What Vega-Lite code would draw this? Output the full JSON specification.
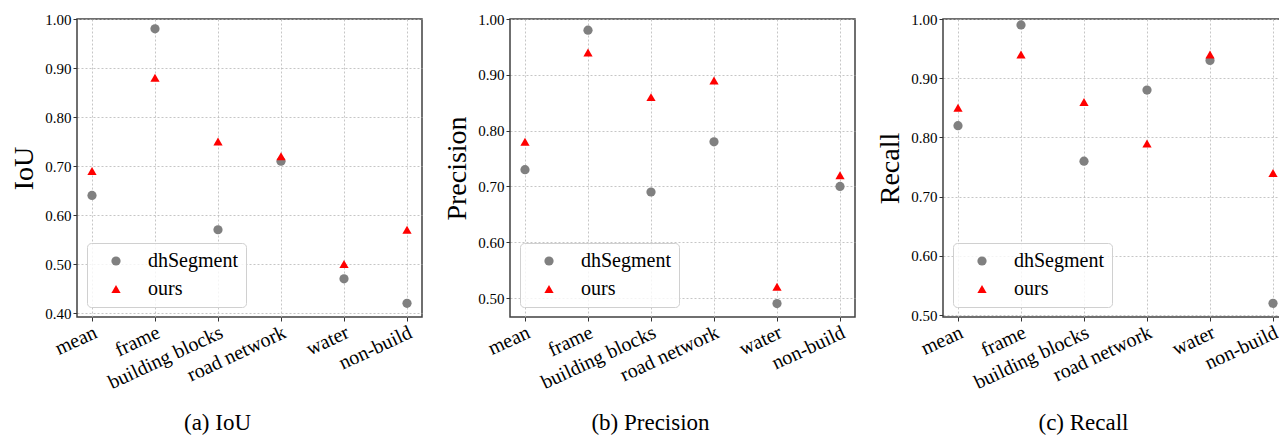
{
  "$schema": "https://vega.github.io/schema/vega-lite/v6.json",
  "padding": {"left": 10, "top": 11, "right": 0, "bottom": 0},
  "background": "white",
  "datasets": {
    "scores": [
      {"metric": "IoU", "category": "mean", "method": "dhSegment", "value": 0.64},
      {"metric": "IoU", "category": "frame", "method": "dhSegment", "value": 0.98},
      {"metric": "IoU", "category": "building blocks", "method": "dhSegment", "value": 0.57},
      {"metric": "IoU", "category": "road network", "method": "dhSegment", "value": 0.71},
      {"metric": "IoU", "category": "water", "method": "dhSegment", "value": 0.47},
      {"metric": "IoU", "category": "non-build", "method": "dhSegment", "value": 0.42},
      {"metric": "IoU", "category": "mean", "method": "ours", "value": 0.69},
      {"metric": "IoU", "category": "frame", "method": "ours", "value": 0.88},
      {"metric": "IoU", "category": "building blocks", "method": "ours", "value": 0.75},
      {"metric": "IoU", "category": "road network", "method": "ours", "value": 0.72},
      {"metric": "IoU", "category": "water", "method": "ours", "value": 0.50},
      {"metric": "IoU", "category": "non-build", "method": "ours", "value": 0.57},
      {"metric": "Precision", "category": "mean", "method": "dhSegment", "value": 0.73},
      {"metric": "Precision", "category": "frame", "method": "dhSegment", "value": 0.98},
      {"metric": "Precision", "category": "building blocks", "method": "dhSegment", "value": 0.69},
      {"metric": "Precision", "category": "road network", "method": "dhSegment", "value": 0.78},
      {"metric": "Precision", "category": "water", "method": "dhSegment", "value": 0.49},
      {"metric": "Precision", "category": "non-build", "method": "dhSegment", "value": 0.70},
      {"metric": "Precision", "category": "mean", "method": "ours", "value": 0.78},
      {"metric": "Precision", "category": "frame", "method": "ours", "value": 0.94},
      {"metric": "Precision", "category": "building blocks", "method": "ours", "value": 0.86},
      {"metric": "Precision", "category": "road network", "method": "ours", "value": 0.89},
      {"metric": "Precision", "category": "water", "method": "ours", "value": 0.52},
      {"metric": "Precision", "category": "non-build", "method": "ours", "value": 0.72},
      {"metric": "Recall", "category": "mean", "method": "dhSegment", "value": 0.82},
      {"metric": "Recall", "category": "frame", "method": "dhSegment", "value": 0.99},
      {"metric": "Recall", "category": "building blocks", "method": "dhSegment", "value": 0.76},
      {"metric": "Recall", "category": "road network", "method": "dhSegment", "value": 0.88},
      {"metric": "Recall", "category": "water", "method": "dhSegment", "value": 0.93},
      {"metric": "Recall", "category": "non-build", "method": "dhSegment", "value": 0.52},
      {"metric": "Recall", "category": "mean", "method": "ours", "value": 0.85},
      {"metric": "Recall", "category": "frame", "method": "ours", "value": 0.94},
      {"metric": "Recall", "category": "building blocks", "method": "ours", "value": 0.86},
      {"metric": "Recall", "category": "road network", "method": "ours", "value": 0.79},
      {"metric": "Recall", "category": "water", "method": "ours", "value": 0.94},
      {"metric": "Recall", "category": "non-build", "method": "ours", "value": 0.74}
    ]
  },
  "data": {"name": "scores"},
  "bounds": "flush",
  "spacing": 88,
  "resolve": {"scale": {"color": "independent", "shape": "independent", "x": "independent", "y": "independent"}},
  "hconcat": [
    {
      "width": 345, "height": 298,
      "transform": [{"filter": "datum.metric === 'IoU'"}],
      "title": {"text": "(a) IoU", "dx": -32},
      "mark": {"type": "point", "filled": true, "size": 85, "opacity": 1},
      "encoding": {
        "x": {"field": "category", "type": "nominal", "sort": ["mean", "frame", "building blocks", "road network", "water", "non-build"], "scale": {"type": "point", "padding": 0.238}, "axis": {"title": null}},
        "y": {"field": "value", "type": "quantitative", "scale": {"domain": [0.392, 1.0], "nice": false, "zero": false}, "axis": {"title": "IoU", "values": [0.4, 0.5, 0.6, 0.7, 0.8, 0.9, 1.0]}},
        "color": {"field": "method", "type": "nominal", "scale": {"domain": ["dhSegment", "ours"], "range": ["#808080", "#ff0000"]}, "legend": {"title": null}},
        "shape": {"field": "method", "type": "nominal", "scale": {"domain": ["dhSegment", "ours"], "range": ["circle", "triangle-up"]}, "legend": {"title": null}}
      }
    },
    {
      "width": 345, "height": 298,
      "transform": [{"filter": "datum.metric === 'Precision'"}],
      "title": {"text": "(b) Precision", "dx": -32},
      "mark": {"type": "point", "filled": true, "size": 85, "opacity": 1},
      "encoding": {
        "x": {"field": "category", "type": "nominal", "sort": ["mean", "frame", "building blocks", "road network", "water", "non-build"], "scale": {"type": "point", "padding": 0.238}, "axis": {"title": null}},
        "y": {"field": "value", "type": "quantitative", "scale": {"domain": [0.466, 1.0], "nice": false, "zero": false}, "axis": {"title": "Precision", "values": [0.5, 0.6, 0.7, 0.8, 0.9, 1.0]}},
        "color": {"field": "method", "type": "nominal", "scale": {"domain": ["dhSegment", "ours"], "range": ["#808080", "#ff0000"]}, "legend": {"title": null}},
        "shape": {"field": "method", "type": "nominal", "scale": {"domain": ["dhSegment", "ours"], "range": ["circle", "triangle-up"]}, "legend": {"title": null}}
      }
    },
    {
      "width": 345, "height": 298,
      "transform": [{"filter": "datum.metric === 'Recall'"}],
      "title": {"text": "(c) Recall", "dx": -32},
      "mark": {"type": "point", "filled": true, "size": 85, "opacity": 1},
      "encoding": {
        "x": {"field": "category", "type": "nominal", "sort": ["mean", "frame", "building blocks", "road network", "water", "non-build"], "scale": {"type": "point", "padding": 0.238}, "axis": {"title": null}},
        "y": {"field": "value", "type": "quantitative", "scale": {"domain": [0.497, 1.0], "nice": false, "zero": false}, "axis": {"title": "Recall", "values": [0.5, 0.6, 0.7, 0.8, 0.9, 1.0]}},
        "color": {"field": "method", "type": "nominal", "scale": {"domain": ["dhSegment", "ours"], "range": ["#808080", "#ff0000"]}, "legend": {"title": null}},
        "shape": {"field": "method", "type": "nominal", "scale": {"domain": ["dhSegment", "ours"], "range": ["circle", "triangle-up"]}, "legend": {"title": null}}
      }
    }
  ],
  "config": {
    "font": "Liberation Serif",
    "view": {"stroke": "#404040", "strokeWidth": 1.5},
    "title": {"orient": "bottom", "anchor": "middle", "frame": "group", "offset": 20, "fontSize": 23, "fontWeight": "normal", "color": "black", "font": "Liberation Serif"},
    "axis": {
      "domain": false,
      "grid": true,
      "gridColor": "#b8b8b8",
      "gridDash": [2, 2],
      "gridWidth": 0.8,
      "tickColor": "#333333",
      "tickSize": 4,
      "labelColor": "black",
      "labelFont": "Liberation Serif",
      "titleFont": "Liberation Serif",
      "titleColor": "black",
      "titleFontWeight": "normal"
    },
    "axisY": {"labelFontSize": 15, "labelPadding": 2, "format": ".2f", "titleFontSize": 28, "titlePadding": 6},
    "axisX": {"labelFontSize": 20, "labelAngle": -25, "labelAlign": "right", "labelBaseline": "top", "labelPadding": 1, "labelOffset": -1},
    "legend": {
      "orient": "bottom-left",
      "offset": 10,
      "padding": 8,
      "rowPadding": 8,
      "labelFontSize": 20,
      "labelFont": "Liberation Serif",
      "labelColor": "black",
      "symbolSize": 85,
      "symbolOffset": 11,
      "labelOffset": 22,
      "strokeColor": "#d0d0d0",
      "fillColor": "rgba(255,255,255,0.8)",
      "cornerRadius": 4
    }
  }
}
